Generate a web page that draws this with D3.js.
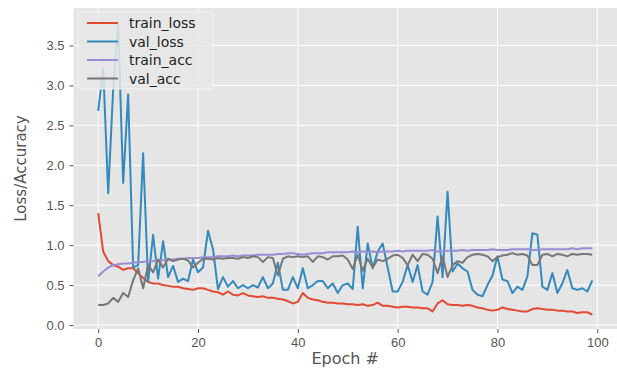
<!DOCTYPE html>
<html>
<head>
    <meta charset="utf-8">
    <style>
        body { margin: 0; background: white; }
        svg { display: block; font-family: 'DejaVu Sans', sans-serif; }
        .tick text { fill: #555; font-size: 13px; }
        .tick line { stroke: #555; }
        .domain { display: none; }
    </style>
</head>
<body>
    <svg width="617" height="369"></svg>

<script src="https://d3js.org/d3.v7.min.js"></script>
<script>
    // values, one per epoch (0..99)
    let trainLoss = [1.40, 0.92, 0.80, 0.75, 0.73, 0.69, 0.71, 0.71, 0.65, 0.59,
        0.54, 0.52, 0.52, 0.50, 0.49, 0.48, 0.48, 0.46, 0.45, 0.44,
        0.46, 0.46, 0.44, 0.42, 0.41, 0.38, 0.42, 0.38, 0.37, 0.40,
        0.37, 0.36, 0.35, 0.36, 0.34, 0.34, 0.33, 0.32, 0.30, 0.27,
        0.29, 0.40, 0.34, 0.32, 0.31, 0.29, 0.28, 0.28, 0.27, 0.27,
        0.26, 0.26, 0.25, 0.26, 0.24, 0.25, 0.28, 0.24, 0.24, 0.23,
        0.22, 0.23, 0.23, 0.22, 0.22, 0.21, 0.21, 0.17, 0.27, 0.31,
        0.26, 0.25, 0.25, 0.24, 0.25, 0.24, 0.22, 0.21, 0.19, 0.18,
        0.19, 0.22, 0.20, 0.19, 0.18, 0.17, 0.17, 0.20, 0.21, 0.20,
        0.19, 0.19, 0.18, 0.18, 0.17, 0.17, 0.15, 0.16, 0.16, 0.13];

    let valLoss = [2.68, 3.22, 1.65, 2.95, 3.76, 1.78, 2.89, 0.72, 0.75, 2.15,
        0.54, 1.13, 0.58, 1.05, 0.60, 0.74, 0.54, 0.58, 0.55, 0.82,
        0.66, 0.72, 1.18, 0.95, 0.45, 0.60, 0.48, 0.55, 0.46, 0.50,
        0.46, 0.50, 0.47, 0.60, 0.46, 0.52, 0.78, 0.44, 0.44, 0.60,
        0.46, 0.71, 0.46, 0.50, 0.55, 0.55, 0.46, 0.52, 0.40, 0.50,
        0.52, 0.45, 1.23, 0.46, 1.02, 0.71, 0.92, 1.02, 0.72, 0.42,
        0.42, 0.54, 0.75, 0.54, 0.75, 0.42, 0.38, 0.54, 1.36, 0.60,
        1.67, 0.67, 0.77, 0.71, 0.67, 0.44, 0.38, 0.36, 0.50, 0.62,
        0.86, 0.57, 0.55, 0.40, 0.48, 0.44, 0.61, 1.15, 1.13, 0.48,
        0.44, 0.65, 0.40, 0.52, 0.69, 0.46, 0.44, 0.46, 0.42, 0.56];

    let trainAcc = [0.61, 0.67, 0.72, 0.75, 0.76, 0.77, 0.77, 0.78, 0.79, 0.79,
        0.80, 0.80, 0.81, 0.81, 0.82, 0.82, 0.83, 0.83, 0.84, 0.84,
        0.84, 0.85, 0.85, 0.85, 0.86, 0.86, 0.86, 0.87, 0.86, 0.87,
        0.87, 0.87, 0.88, 0.88, 0.88, 0.88, 0.89, 0.89, 0.90, 0.90,
        0.89, 0.88, 0.89, 0.90, 0.90, 0.90, 0.91, 0.91, 0.91, 0.91,
        0.91, 0.92, 0.91, 0.92, 0.92, 0.92, 0.91, 0.92, 0.92, 0.92,
        0.93, 0.92, 0.93, 0.93, 0.93, 0.93, 0.93, 0.94, 0.92, 0.92,
        0.93, 0.93, 0.93, 0.94, 0.93, 0.94, 0.94, 0.94, 0.94, 0.95,
        0.94, 0.94, 0.94, 0.95, 0.95, 0.95, 0.95, 0.94, 0.94, 0.95,
        0.95, 0.95, 0.95, 0.95, 0.95, 0.96, 0.95, 0.96, 0.96, 0.96];

    let valAcc = [0.25, 0.25, 0.27, 0.34, 0.29, 0.40, 0.35, 0.56, 0.71, 0.46,
        0.75, 0.66, 0.82, 0.72, 0.83, 0.80, 0.82, 0.83, 0.81, 0.72,
        0.78, 0.83, 0.83, 0.82, 0.84, 0.83, 0.84, 0.84, 0.83, 0.85,
        0.84, 0.86, 0.85, 0.79, 0.85, 0.84, 0.62, 0.83, 0.86, 0.85,
        0.86, 0.85, 0.86, 0.79, 0.86, 0.85, 0.82, 0.86, 0.86, 0.87,
        0.82, 0.70, 0.88, 0.68, 0.83, 0.72, 0.82, 0.80, 0.83, 0.87,
        0.88, 0.84, 0.75, 0.88, 0.80, 0.89, 0.88, 0.83, 0.65, 0.86,
        0.60, 0.75, 0.80, 0.78, 0.85, 0.88, 0.89, 0.88, 0.86, 0.80,
        0.85, 0.87, 0.88, 0.90, 0.88, 0.89, 0.87, 0.75, 0.75, 0.88,
        0.89, 0.86, 0.89, 0.88, 0.86, 0.89, 0.88, 0.89, 0.89, 0.88];

    let seriesNames = ["train_loss", "val_loss", "train_acc", "val_acc"];
    let seriesColors = ["#E24A33", "#348ABD", "#988ED5", "#777777"];
    let xTicks = [0, 20, 40, 60, 80, 100];
    let yTicks = [0.0, 0.5, 1.0, 1.5, 2.0, 2.5, 3.0, 3.5];

    let series = [trainLoss, valLoss, trainAcc, valAcc];

    let svg = d3.select("svg");
    let plotLeft = 73.5, plotRight = 617, plotTop = 8, plotBottom = 329;

    let x = d3.scaleLinear().domain([-4.95, 103.95]).range([plotLeft, plotRight]);
    let y = d3.scaleLinear().domain([-0.05, 3.97]).range([plotBottom, plotTop]);

    // plot background
    svg.append("rect")
        .attr("x", plotLeft).attr("y", plotTop)
        .attr("width", plotRight - plotLeft).attr("height", plotBottom - plotTop)
        .attr("fill", "#E5E5E5");

    // grid
    svg.append("g").selectAll("line")
        .data(xTicks)
        .join("line")
        .attr("x1", d => x(d)).attr("x2", d => x(d))
        .attr("y1", plotTop).attr("y2", plotBottom)
        .attr("stroke", "white").attr("stroke-width", 1);

    svg.append("g").selectAll("line")
        .data(yTicks)
        .join("line")
        .attr("x1", plotLeft).attr("x2", plotRight)
        .attr("y1", d => y(d)).attr("y2", d => y(d))
        .attr("stroke", "white").attr("stroke-width", 1);

    // axes
    svg.append("g")
        .attr("transform", `translate(0,${plotBottom})`)
        .call(d3.axisBottom(x).tickValues(xTicks).tickSize(4).tickPadding(5)
            .tickFormat(d3.format("d")));

    svg.append("g")
        .attr("transform", `translate(${plotLeft},0)`)
        .call(d3.axisLeft(y).tickValues(yTicks).tickSize(4).tickPadding(5)
            .tickFormat(d3.format(".1f")));

    // lines
    let line = d3.line()
        .x((d, i) => x(i))
        .y(d => y(d));

    svg.append("g").selectAll("path")
        .data(series)
        .join("path")
        .attr("d", line)
        .attr("fill", "none")
        .attr("stroke", (d, i) => seriesColors[i])
        .attr("stroke-width", 2)
        .attr("stroke-linejoin", "round");

    // axis labels
    svg.append("text")
        .attr("x", (plotLeft + plotRight) / 2)
        .attr("y", 364)
        .attr("text-anchor", "middle")
        .attr("fill", "#555")
        .style("font-size", "16px")
        .text("Epoch #");

    svg.append("text")
        .attr("transform", `translate(26,${(plotTop + plotBottom) / 2}) rotate(-90)`)
        .attr("text-anchor", "middle")
        .attr("fill", "#555")
        .style("font-size", "15px")
        .text("Loss/Accuracy");

    // legend
    let legend = svg.append("g").attr("transform", "translate(78,12)");
    legend.append("rect")
        .attr("width", 135).attr("height", 77)
        .attr("rx", 2)
        .attr("fill", "#E8E8E8").attr("fill-opacity", 0.85)
        .attr("stroke", "#f2f2f2");

    let item = legend.selectAll(".item")
        .data(seriesNames)
        .join("g")
        .attr("class", "item")
        .attr("transform", (d, i) => `translate(0,${11 + i * 18.5})`);

    item.append("line")
        .attr("x1", 9).attr("x2", 40)
        .attr("stroke", (d, i) => seriesColors[i])
        .attr("stroke-width", 2);

    item.append("text")
        .attr("x", 51).attr("y", 5)
        .attr("fill", "#222")
        .style("font-size", "14px")
        .text(d => d);
</script>
</body>
</html>
